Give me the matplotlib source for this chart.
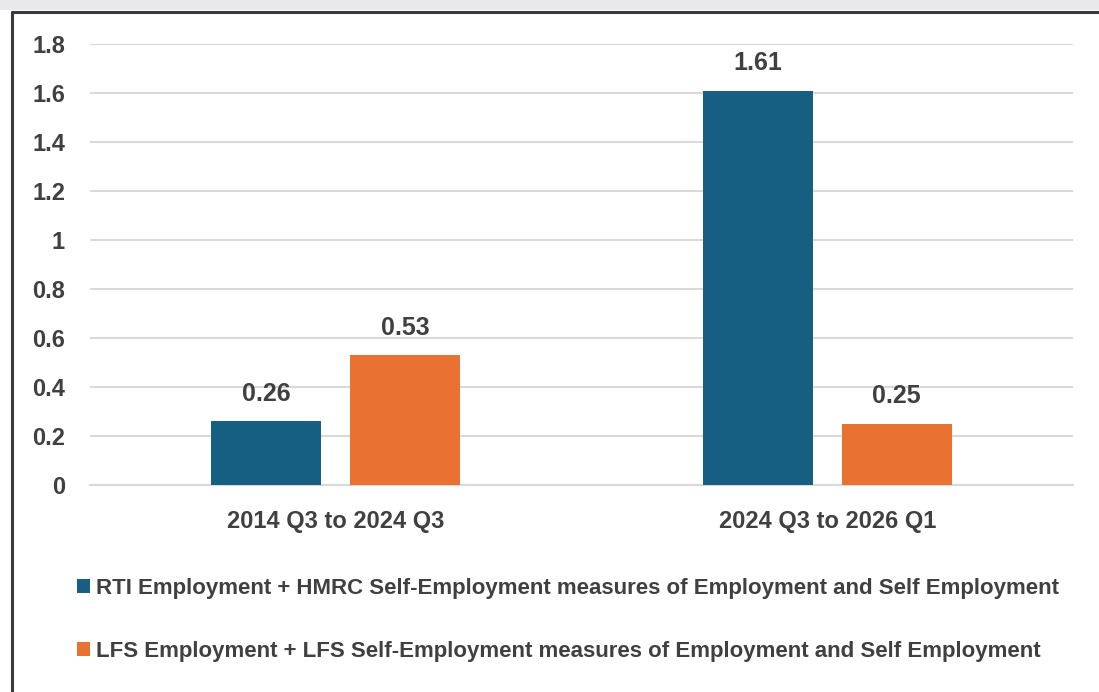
import matplotlib
matplotlib.use("Agg")
import matplotlib.pyplot as plt
from matplotlib.patches import Rectangle
from matplotlib.lines import Line2D

categories = ["2014 Q3 to 2024 Q3", "2024 Q3 to 2026 Q1"]
series_names = [
    "RTI Employment + HMRC Self-Employment measures of Employment and Self Employment",
    "LFS Employment + LFS Self-Employment measures of Employment and Self Employment",
]
rti_values = [0.26, 1.61]
lfs_values = [0.53, 0.25]
yticks = [0, 0.2, 0.4, 0.6, 0.8, 1, 1.2, 1.4, 1.6, 1.8]
ytick_labels = ["0", "0.2", "0.4", "0.6", "0.8", "1", "1.2", "1.4", "1.6", "1.8"]

family = ["Liberation Sans", "DejaVu Sans"]
plt.rcParams["font.family"] = family
plt.rcParams["font.weight"] = "bold"

blue = "#175f82"
orange = "#e97132"
text_col = "#404040"
grid_col = "#d9d9d9"

W, H = 1099, 692
fig = plt.figure(figsize=(W / 100, H / 100), dpi=100)
fig.patch.set_facecolor("white")

# outer frame: light band at the top, dark rules along top and left
fig.add_artist(Rectangle((0, 1 - 10 / H), 1, 10 / H, transform=fig.transFigure,
                         facecolor="#e8e9ec", edgecolor="none"))
fig.add_artist(Line2D([11 / W, 1], [1 - 11.5 / H, 1 - 11.5 / H], transform=fig.transFigure,
                      color="#3a3a3a", lw=2.2, solid_capstyle="butt"))
fig.add_artist(Line2D([11.5 / W, 11.5 / W], [0, 1 - 10.5 / H], transform=fig.transFigure,
                      color="#3a3a3a", lw=2.2, solid_capstyle="butt"))

ax_left, ax_right = 90, 1073
ax_top, ax_bottom = 44, 485
ax = fig.add_axes([ax_left / W, 1 - ax_bottom / H, (ax_right - ax_left) / W, (ax_bottom - ax_top) / H])

x = range(len(categories))
width = 0.224
offset = 0.1415
b1 = ax.bar([i - offset for i in x], rti_values, width, color=blue, label=series_names[0], zorder=3)
b2 = ax.bar([i + offset for i in x], lfs_values, width, color=orange, label=series_names[1], zorder=3)

for bars, vals in ((b1, rti_values), (b2, lfs_values)):
    for rect, v in zip(bars, vals):
        ax.annotate(f"{v:.2f}", (rect.get_x() + rect.get_width() / 2, v),
                    xytext=(0, 11), textcoords="offset points", ha="center", va="bottom",
                    fontsize=18, color=text_col, fontweight="bold")

ax.set_xlim(-0.5, 1.5)
ax.set_ylim(0, 1.8)
ax.set_yticks(yticks)
ax.set_yticklabels(ytick_labels)
ax.set_xticks(list(x))
ax.set_xticklabels(categories)
ax.tick_params(axis="y", length=0, pad=18, labelsize=17, labelcolor=text_col)
ax.tick_params(axis="x", length=0, pad=18, labelsize=17, labelcolor=text_col)
for lab in ax.get_yticklabels() + ax.get_xticklabels():
    lab.set_fontweight("bold")
ax.yaxis.grid(True, color=grid_col, lw=1.5, zorder=0)
ax.set_axisbelow(True)
for s in ax.spines.values():
    s.set_visible(False)
ax.spines["bottom"].set_visible(True)
ax.spines["bottom"].set_color(grid_col)
ax.spines["bottom"].set_linewidth(1.5)

fig.legend(handles=[b1, b2], labels=series_names, loc="upper left",
           bbox_to_anchor=(68 / W, 1 - 569 / H), frameon=False, ncol=1,
           labelcolor=text_col, handlelength=0.6, handleheight=0.6,
           handletextpad=0.25, labelspacing=1.9, borderaxespad=0,
           prop={"weight": "bold", "size": 16, "family": family})

fig.savefig("out.png", dpi=100)
